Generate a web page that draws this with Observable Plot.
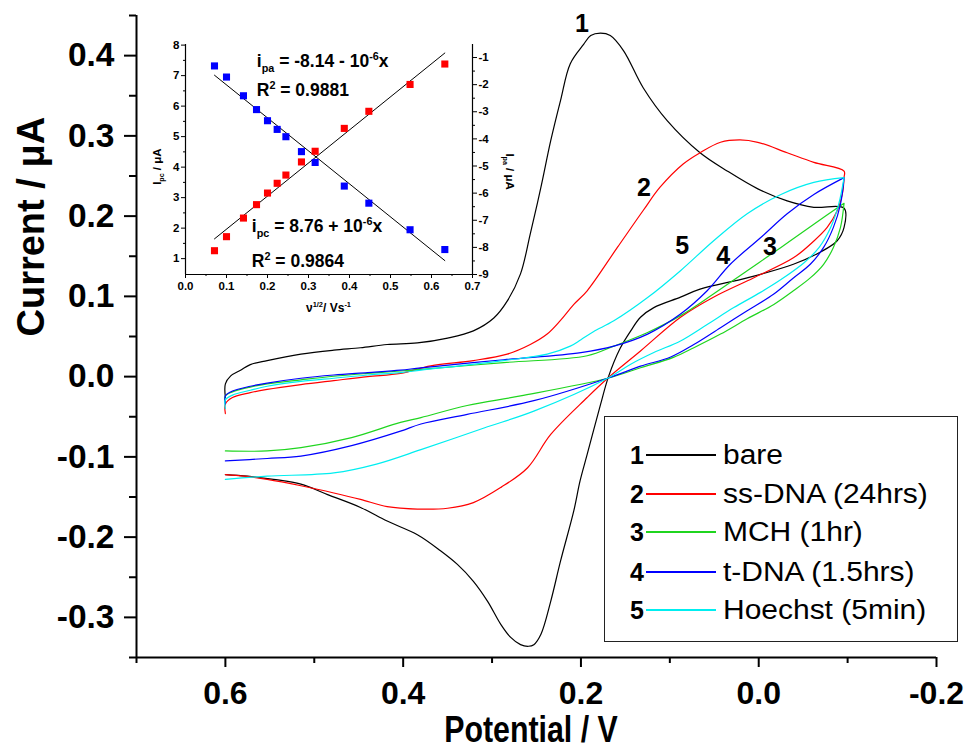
<!DOCTYPE html>
<html>
<head>
<meta charset="utf-8">
<script src="https://cdn.jsdelivr.net/npm/d3@7"></script>
<script src="https://cdn.jsdelivr.net/npm/@observablehq/plot@0.6"></script>
<style>
  html,body{margin:0;padding:0;background:#fff;}
  #chart{position:relative;width:964px;height:749px;overflow:hidden;font-family:"Liberation Sans",Arial,sans-serif;}
  #chart > svg{position:absolute;overflow:visible;}
  #legend{position:absolute;left:604px;top:416px;width:354px;height:226px;border:1.5px solid #222;box-sizing:border-box;background:#fff;}
  .row{position:absolute;left:0;width:100%;height:30px;}
  .num{position:absolute;left:25px;top:0;line-height:30px;font-size:25px;font-weight:bold;}
  .ln{position:absolute;left:41px;width:70px;top:14px;height:0;border-top:2px solid #000;}
  .lab{position:absolute;left:118px;top:0;line-height:30px;font-size:27px;white-space:nowrap;transform:scaleX(1.11);transform-origin:left center;}
</style>
</head>
<body>
<div id="chart"></div>
<script>
// ---------- main CV data (Potential / V, Current / µA) ----------
const seriesNames  = ["bare", "ss-DNA (24hrs)", "MCH (1hr)", "t-DNA (1.5hrs)", "Hoechst (5min)"];
const seriesNums   = ["1", "2", "3", "4", "5"];
const seriesColors = ["#000000", "#ff0000", "#1fd51f", "#0000ff", "#00eef0"];

const bareE = [0.600,0.600,0.594,0.583,0.572,0.553,0.515,0.478,0.448,0.418,0.384,0.350,0.321,0.298,0.283,0.268,0.257,0.245,0.234,0.223,0.212,0.197,0.189,0.178,0.167,0.152,0.130,0.103,0.066,0.035,0.001,-0.032,-0.062,-0.096,
  -0.096,-0.088,-0.069,-0.039,0.013,0.066,0.088,0.118,0.133,0.144,0.156,0.169,0.178,0.193,0.201,0.208,0.223,0.234,0.245,0.253,0.259,0.268,0.279,0.290,0.305,0.321,0.339,0.358,0.384,0.418,0.448,0.485,0.515,0.546,0.575,0.600];
const bareI = [-0.026,-0.009,0.001,0.008,0.015,0.020,0.028,0.033,0.036,0.040,0.042,0.048,0.057,0.073,0.094,0.128,0.178,0.236,0.294,0.344,0.390,0.414,0.425,0.428,0.425,0.406,0.360,0.319,0.279,0.256,0.234,0.219,0.211,0.210,
  0.186,0.169,0.155,0.140,0.123,0.109,0.099,0.086,0.074,0.057,0.035,0.000,-0.035,-0.097,-0.130,-0.167,-0.230,-0.280,-0.321,-0.334,-0.336,-0.334,-0.325,-0.309,-0.280,-0.255,-0.234,-0.217,-0.197,-0.180,-0.163,-0.147,-0.134,-0.128,-0.124,-0.122];

const ssE = [0.600,0.600,0.592,0.572,0.553,0.515,0.478,0.440,0.403,0.369,0.321,0.283,0.257,0.238,0.223,0.208,0.193,0.159,0.130,0.111,0.085,0.066,0.043,0.021,0.001,-0.032,-0.062,-0.096,
  -0.096,-0.094,-0.088,-0.077,-0.062,-0.039,0.006,0.051,0.088,0.133,0.170,0.193,0.234,0.260,0.290,0.321,0.350,0.384,0.418,0.448,0.478,0.515,0.553,0.579,0.600];
const ssI = [-0.046,-0.034,-0.026,-0.020,-0.016,-0.010,-0.005,0.000,0.004,0.0135,0.020,0.028,0.040,0.053,0.070,0.090,0.107,0.161,0.207,0.236,0.265,0.279,0.292,0.295,0.292,0.279,0.267,0.256,
  0.248,0.227,0.206,0.186,0.169,0.148,0.123,0.099,0.074,0.032,-0.002,-0.026,-0.072,-0.1135,-0.138,-0.157,-0.164,-0.165,-0.162,-0.153,-0.145,-0.136,-0.128,-0.124,-0.122];

const mchE = [0.600,0.600,0.592,0.572,0.553,0.515,0.478,0.440,0.403,0.380,0.287,0.193,0.163,0.125,0.088,0.051,0.013,-0.025,-0.062,-0.096,
  -0.096,-0.092,-0.084,-0.073,-0.058,-0.039,-0.017,0.013,0.043,0.073,0.096,0.133,0.170,0.268,0.328,0.380,0.403,0.458,0.515,0.553,0.600];
const mchI = [-0.032,-0.024,-0.019,-0.013,-0.009,-0.004,0.0005,0.004,0.007,0.009,0.0175,0.026,0.038,0.055,0.076,0.103,0.132,0.161,0.190,0.216,
  0.216,0.186,0.161,0.140,0.123,0.107,0.090,0.072,0.053,0.036,0.024,0.011,-0.002,-0.024,-0.036,-0.051,-0.057,-0.076,-0.0885,-0.0926,-0.0926];

const tdnaE = [0.600,0.600,0.592,0.572,0.553,0.515,0.478,0.440,0.403,0.380,0.287,0.200,0.163,0.125,0.088,0.058,0.032,-0.002,-0.032,-0.062,-0.096,
  -0.096,-0.092,-0.084,-0.073,-0.058,-0.039,-0.017,0.013,0.043,0.073,0.099,0.133,0.170,0.253,0.328,0.380,0.403,0.458,0.515,0.553,0.600];
const tdnaI = [-0.034,-0.024,-0.018,-0.012,-0.008,-0.002,0.002,0.005,0.008,0.011,0.021,0.030,0.038,0.053,0.078,0.107,0.140,0.173,0.203,0.227,0.248,
  0.248,0.215,0.186,0.161,0.140,0.123,0.103,0.082,0.061,0.040,0.0245,0.013,-0.002,-0.030,-0.047,-0.059,-0.068,-0.086,-0.099,-0.102,-0.105];

const hoeE = [0.600,0.600,0.592,0.572,0.553,0.515,0.478,0.440,0.403,0.380,0.287,0.238,0.212,0.200,0.186,0.163,0.125,0.088,0.051,0.013,-0.025,-0.062,-0.096,
  -0.096,-0.090,-0.081,-0.068,-0.051,-0.025,-0.002,0.028,0.058,0.088,0.118,0.144,0.170,0.253,0.309,0.380,0.430,0.478,0.553,0.600];
const hoeI = [-0.040,-0.029,-0.023,-0.017,-0.012,-0.006,-0.002,0.002,0.005,0.008,0.020,0.028,0.038,0.046,0.056,0.0695,0.0985,0.132,0.169,0.203,0.227,0.242,0.248,
  0.248,0.215,0.186,0.161,0.142,0.121,0.105,0.086,0.065,0.0445,0.030,0.0155,-0.002,-0.043,-0.064,-0.091,-0.109,-0.120,-0.124,-0.128];

// curve number annotations
const curveLabelE = [0.199, 0.129, -0.0125, 0.040, 0.086];
const curveLabelI = [0.439, 0.235, 0.161, 0.150, 0.163];

// main axes ticks
const xMajor = [0.6, 0.4, 0.2, 0.0, -0.2];
const xMinor = [0.7, 0.5, 0.3, 0.1, -0.1];
const yMajor = [-0.3, -0.2, -0.1, 0.0, 0.1, 0.2, 0.3, 0.4];
const yMinor = [-0.35, -0.25, -0.15, -0.05, 0.05, 0.15, 0.25, 0.35, 0.45];

// ---------- inset data ----------
const sqrtScanRate = [0.0707,0.1,0.1414,0.1732,0.2,0.2236,0.2449,0.2828,0.3162,0.3873,0.4472,0.5477,0.6325];
const ipc = [1.26,1.72,2.33,2.77,3.15,3.47,3.74,4.17,4.52,5.27,5.83,6.71,7.38];
const ipa = [-1.31,-1.72,-2.41,-2.92,-3.33,-3.65,-3.92,-4.47,-4.87,-5.74,-6.37,-7.35,-8.08];
const leftDomain = [0.48, 8.02];
const rightDomain = [-9, -0.52];
const insetXMajor = [0,0.1,0.2,0.3,0.4,0.5,0.6,0.7];
const insetXMinor = [0.05,0.15,0.25,0.35,0.45,0.55,0.65];
const leftMajor = [1,2,3,4,5,6,7,8];
const leftMinor = [1.5,2.5,3.5,4.5,5.5,6.5,7.5];
const rightMajor = [-9,-8,-7,-6,-5,-4,-3,-2,-1];
const rightMinor = [-8.5,-7.5,-6.5,-5.5,-4.5,-3.5,-2.5,-1.5];

// ---------- build rows ----------
const curves = [[bareE,bareI],[ssE,ssI],[mchE,mchI],[tdnaE,tdnaI],[hoeE,hoeI]];
const cvRows = [];
curves.forEach(([E,I],k) => E.forEach((e,i) => cvRows.push({name: seriesNames[k], E: e, I: I[i]})));

const fmt1 = d => d.toFixed(1);
const FONT = "Liberation Sans, Arial, sans-serif";

const main = Plot.plot({
  width: 964, height: 749,
  marginLeft: 136, marginRight: 28, marginTop: 15, marginBottom: 92,
  style: {fontFamily: FONT, background: "transparent", color: "#000"},
  x: {domain: [0.7, -0.2]},
  y: {domain: [-0.35, 0.45]},
  color: {domain: seriesNames, range: seriesColors},
  marks: [
    Plot.line(cvRows, {x: "E", y: "I", z: "name", stroke: "name", strokeWidth: 1.2, curve: "catmull-rom"}),
    Plot.ruleX([0.7], {strokeWidth: 2}),
    Plot.ruleY([-0.35], {strokeWidth: 2}),
    Plot.axisX({ticks: xMajor, tickSize: 10, tickPadding: 14, tickFormat: fmt1, fontSize: 32, fontWeight: "bold", strokeWidth: 2, label: null}),
    Plot.axisX({ticks: xMinor, tickSize: 6, tickFormat: () => "", strokeWidth: 2, label: null}),
    Plot.axisY({ticks: yMajor, tickSize: 12, tickPadding: 10, tickFormat: fmt1, fontSize: 33.5, fontWeight: "bold", strokeWidth: 2, label: null}),
    Plot.axisY({ticks: yMinor, tickSize: 7, tickFormat: () => "", strokeWidth: 2, label: null}),
    Plot.text(seriesNums, {x: (d,i) => curveLabelE[i], y: (d,i) => curveLabelI[i], text: d => d, fontSize: 25, fontWeight: "bold"}),
    Plot.text(["Current / μA"], {frameAnchor: "left", rotate: -90, dx: -105, fontSize: 38, fontWeight: "bold"})
  ]
});
main.style.left = "0px"; main.style.top = "0px";
document.getElementById("chart").appendChild(main);

// x-axis title (condensed, like a narrow bold face)
{
  const xs = main.scale("x");
  const cx = (xs.apply(0.7) + xs.apply(-0.2)) / 2 - 5;
  d3.select(main).append("text")
    .attr("transform", `translate(${cx},742) scale(0.82,1)`)
    .attr("text-anchor", "middle").attr("font-family", FONT)
    .attr("font-size", 37).attr("font-weight", "bold").attr("fill", "#000")
    .text("Potential / V");
}

// ---------- inset ----------
const toLeft = r => leftDomain[0] + (r - rightDomain[0]) * (leftDomain[1] - leftDomain[0]) / (rightDomain[1] - rightDomain[0]);
const fromLeft = l => rightDomain[0] + (l - leftDomain[0]) * (rightDomain[1] - rightDomain[0]) / (leftDomain[1] - leftDomain[0]);
const pcRows = sqrtScanRate.map((v,i) => ({v, i: ipc[i]}));
const paRows = sqrtScanRate.map((v,i) => ({v, i: toLeft(ipa[i])}));

const inset = Plot.plot({
  width: 370, height: 290,
  marginLeft: 35, marginRight: 48, marginTop: 14, marginBottom: 46,
  style: {fontFamily: FONT, background: "transparent", color: "#000", overflow: "visible"},
  x: {domain: [0, 0.7]},
  y: {domain: leftDomain},
  marks: [
    Plot.ruleX([0], {strokeWidth: 1.2}),
    Plot.ruleX([0.7], {strokeWidth: 1.2}),
    Plot.ruleY([leftDomain[0]], {strokeWidth: 1.2}),
    Plot.axisX({ticks: insetXMajor, tickSize: 4, tickPadding: 3, tickFormat: fmt1, fontSize: 11.5, fontWeight: "bold", label: null}),
    Plot.axisX({ticks: insetXMinor, tickSize: 2, tickFormat: () => "", label: null}),
    Plot.axisY({anchor: "left", ticks: leftMajor, tickSize: 4, tickPadding: 2, fontSize: 11.5, fontWeight: "bold", label: null}),
    Plot.axisY({anchor: "left", ticks: leftMinor, tickSize: 2, tickFormat: () => "", label: null}),
    Plot.axisY({anchor: "right", ticks: rightMajor.map(toLeft), tickFormat: d => String(Math.round(fromLeft(d))), tickSize: 4, tickPadding: 2, fontSize: 11.5, fontWeight: "bold", label: null}),
    Plot.axisY({anchor: "right", ticks: rightMinor.map(toLeft), tickSize: 2, tickFormat: () => "", label: null}),
    Plot.linearRegressionY(pcRows, {x: "v", y: "i", ci: 0, stroke: "#000", strokeWidth: 1}),
    Plot.linearRegressionY(paRows, {x: "v", y: "i", ci: 0, stroke: "#000", strokeWidth: 1}),
    Plot.dot(pcRows, {x: "v", y: "i", symbol: "square", r: 4, fill: "#ff0000"}),
    Plot.dot(paRows, {x: "v", y: "i", symbol: "square", r: 4, fill: "#0000ff"})
  ]
});
inset.style.left = "150px"; inset.style.top = "30px";
document.getElementById("chart").appendChild(inset);

// rich-text annotations of the inset (subscripts / superscripts)
const sx = inset.scale("x"), sy = inset.scale("y");
const isvg = d3.select(inset);
function rich(x, y, parts, size, opts = {}) {
  const t = isvg.append("text").attr("x", x).attr("y", y)
    .attr("font-size", size).attr("font-weight", "bold").attr("font-family", FONT)
    .attr("fill", "#000").attr("text-anchor", opts.anchor || "start");
  if (opts.transform) t.attr("transform", opts.transform);
  let shift = 0;
  parts.forEach(([s, kind]) => {
    const target = kind === "sub" ? size * 0.3 : kind === "sup" ? -size * 0.4 : 0;
    t.append("tspan").attr("dy", target - shift).attr("font-size", kind ? size * 0.62 : size).text(s);
    shift = target;
  });
  return t;
}
const eqAnchors = [[0.175, 7.28], [0.175, 6.32], [0.163, 1.86], [0.163, 0.72]];
rich(sx.apply(eqAnchors[0][0]), sy.apply(eqAnchors[0][1]), [["i",""],["pa","sub"],[" = -8.14 - 10",""],["-6","sup"],["x",""]], 17.5);
rich(sx.apply(eqAnchors[1][0]), sy.apply(eqAnchors[1][1]), [["R",""],["2","sup"],[" = 0.9881",""]], 17.5);
rich(sx.apply(eqAnchors[2][0]), sy.apply(eqAnchors[2][1]), [["i",""],["pc","sub"],[" = 8.76 + 10",""],["-6","sup"],["x",""]], 17.5);
rich(sx.apply(eqAnchors[3][0]), sy.apply(eqAnchors[3][1]), [["R",""],["2","sup"],[" = 0.9864",""]], 17.5);
// axis titles of the inset
const midY = sy.apply(4.0);
rich(0, 0, [["I",""],["pc","sub"],[" / μA",""]], 11.5, {anchor: "middle", transform: `translate(11,${midY}) rotate(-90)`});
rich(0, 0, [["I",""],["pa","sub"],[" / μA",""]], 11.5, {anchor: "middle", transform: `translate(356,${midY + 5}) rotate(90)`});
rich((sx.apply(0) + sx.apply(0.7)) / 2, sy.apply(leftDomain[0]) + 38, [["ν",""],["1/2","sup"],["/ Vs",""],["-1","sup"]], 12, {anchor: "middle"});

// ---------- legend ----------
const legend = document.createElement("div");
legend.id = "legend";
const rowTops = [23, 61.5, 100, 140, 178];
seriesNames.forEach((name, k) => {
  const row = document.createElement("div");
  row.className = "row";
  row.style.top = rowTops[k] + "px";
  row.innerHTML = `<span class="num">${seriesNums[k]}</span><div class="ln" style="border-top-color:${seriesColors[k]}"></div><span class="lab">${name}</span>`;
  legend.appendChild(row);
});
document.getElementById("chart").appendChild(legend);
</script>
</body>
</html>
